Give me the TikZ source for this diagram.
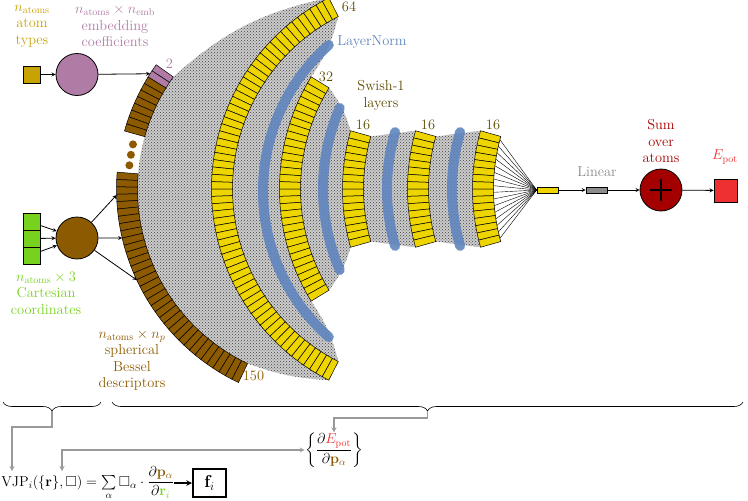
\documentclass[tikz,border=0pt]{standalone}
\usepackage{amsmath,amssymb}
\usetikzlibrary{decorations.pathreplacing,patterns}

\definecolor{swishyellow}{HTML}{EED500}
\definecolor{besselbrown}{HTML}{8C5A00}
\definecolor{embpurple}{HTML}{B07CA6}
\definecolor{typegold}{HTML}{C8A200}
\definecolor{cartgreen}{HTML}{77D21E}
\definecolor{normblue}{HTML}{5F85BE}
\definecolor{layerolive}{HTML}{5C4B00}
\definecolor{sumred}{HTML}{A50000}
\definecolor{energyred}{HTML}{EE3030}
\definecolor{lineargray}{HTML}{8C8C8C}

\newcommand{\cellang}{1.97}
\newcommand{\rin}{193.5}
\newcommand{\rout}{214.5}

% one layer: #3 cells on a circle around (#1,-189), first cell at angle #2
\newcommand{\drawlayer}[4]{%
  \begin{scope}[shift={(#1,-189)}]
    \foreach \k in {1,...,#3}{
      \pgfmathsetmacro\angA{#2+(\k-1)*\cellang}
      \pgfmathsetmacro\angB{#2+\k*\cellang}
      \draw[cell, fill=#4] (\angA:\rin) -- (\angA:\rout) arc[start angle=\angA, end angle=\angB, radius=\rout] -- (\angB:\rin) arc[start angle=\angB, end angle=\angA, radius=\rin] -- cycle;
    }
  \end{scope}}

\begin{document}
\begin{tikzpicture}[
    x=1pt, y=1pt,
    >=stealth,
    thick,
    cell/.style={draw=black, line width=0.5pt},
    hatch/.style={fill=black!20, postaction={pattern=crosshatch dots, pattern color=black!75}},
    normline/.style={normblue, line width=10pt, line cap=round, opacity=0.9},
    lbl/.style={font=\fontsize{14.4}{16.5}\selectfont, align=center, inner sep=0pt},
    box/.style={draw, line width=0.8pt, minimum size=17pt, inner sep=0pt},
    bar/.style={draw, line width=0.6pt, minimum width=21pt, minimum height=6pt, inner sep=0pt},
    circ/.style={draw, circle, line width=0.8pt, minimum size=42pt, inner sep=0pt},
    flow/.style={->, thick},
    back/.style={->, gray!80, line width=1.2pt}
]
    \useasboundingbox (0,0) rectangle (748,-501);

    % HATCHED CONNECTIONS BETWEEN LAYERS
    \fill[hatch] ([shift={(331,-189)}]144.6:\rin) arc[start angle=144.6, end angle=244.45, radius=\rin]
        to[bend right=8] ([shift={(426,-189)}]243.04:\rout) arc[start angle=243.04, end angle=116.96, radius=\rout]
        to[bend right=15] ([shift={(331,-189)}]144.6:\rin) -- cycle;
    \fill[hatch] ([shift={(426,-189)}]116.96:\rin) arc[start angle=116.96, end angle=243.04, radius=\rin]
        to[bend right=10] ([shift={(494,-189)}]211.52:\rout) arc[start angle=211.52, end angle=148.48, radius=\rout]
        to[bend right=10] ([shift={(426,-189)}]116.96:\rin) -- cycle;
    \fill[hatch] ([shift={(494,-189)}]148.48:\rin) arc[start angle=148.48, end angle=211.52, radius=\rin]
        to[bend right=10] ([shift={(557,-189)}]195.76:\rout) arc[start angle=195.76, end angle=164.24, radius=\rout]
        to[bend right=10] ([shift={(494,-189)}]148.48:\rin) -- cycle;
    \fill[hatch] ([shift={(557,-189)}]164.24:\rin) arc[start angle=164.24, end angle=195.76, radius=\rin]
        -- ([shift={(622,-189)}]195.76:\rout) arc[start angle=195.76, end angle=164.24, radius=\rout] -- cycle;
    \fill[hatch] ([shift={(622,-189)}]164.24:\rin) arc[start angle=164.24, end angle=195.76, radius=\rin]
        -- ([shift={(687,-189)}]195.76:\rout) arc[start angle=195.76, end angle=164.24, radius=\rout] -- cycle;

    % LAYERNORM
    \draw[normline] ([shift={(458,-191)}]131.5:195) arc[start angle=131.5, end angle=228.5, radius=195];
    \draw[normline] ([shift={(527,-189)}]156.6:204) arc[start angle=156.6, end angle=203.4, radius=204];
    \draw[normline] ([shift={(591,-189)}]163.8:204) arc[start angle=163.8, end angle=196.2, radius=204];
    \draw[normline] ([shift={(656,-189)}]163.8:204) arc[start angle=163.8, end angle=196.2, radius=204];

    % LAYERS
    \drawlayer{331}{144.6}{2}{embpurple}
    \drawlayer{331}{148.54}{8}{besselbrown}
    \drawlayer{331}{175.5}{35}{besselbrown}
    \drawlayer{426}{116.96}{64}{swishyellow}
    \drawlayer{494}{148.48}{32}{swishyellow}
    \drawlayer{557}{164.24}{16}{swishyellow}
    \drawlayer{622}{164.24}{16}{swishyellow}
    \drawlayer{687}{164.24}{16}{swishyellow}
    \foreach \a in {167.3,170.3,173.3}
        \fill[besselbrown] ([shift={(331,-189)}]\a:203) circle[radius=4];

    % OUTPUT
    \node[bar, fill=swishyellow] (atomout) at (547.5,-190) {};
    \node[bar, fill=lineargray] (linear) at (596.5,-190) {};
    \node[circ, fill=sumred] (sum) at (661,-190) {};
    \node[box, fill=energyred, minimum size=23pt] (epot) at (725.5,-190.5) {};
    \foreach \k in {1,...,16}{
        \pgfmathsetmacro\angA{164.24+(\k-0.5)*\cellang}
        \draw[line width=0.4pt] ([shift={(687,-189)}]\angA:\rin) -- (atomout.west);
    }
    \draw[line width=1.2pt] ([xshift=-11pt]sum.center) -- ([xshift=11pt]sum.center);
    \draw[line width=1.2pt] ([yshift=-11pt]sum.center) -- ([yshift=11pt]sum.center);
    \draw[flow] (atomout) -- (linear);
    \draw[flow] (linear) -- (sum);
    \draw[flow] (sum) -- (epot);

    % INPUTS
    \node[box, fill=typegold] (types) at (31.5,-74.5) {};
    \node[circ, fill=embpurple] (emb) at (77,-74.5) {};
    \coordinate (embIn) at ([shift={(331,-189)}]147.5:\rout);
    \draw[flow] (types) -- (emb);
    \draw[flow] (emb) -- (embIn);

    \node[box, fill=cartgreen] (cart1) at (31.5,-221.5) {};
    \node[box, fill=cartgreen] (cart2) at (31.5,-238.5) {};
    \node[box, fill=cartgreen] (cart3) at (31.5,-255.5) {};
    \node[circ, fill=besselbrown] (bes) at (77,-238) {};
    \coordinate (besA) at ([shift={(331,-189)}]181.6:\rout);
    \coordinate (besB) at ([shift={(331,-189)}]193.2:\rout);
    \coordinate (besC) at ([shift={(331,-189)}]205.1:\rout);
    \draw[flow] ([yshift=-4pt]cart1.east) -- (bes);
    \draw[flow] (cart2) -- (bes);
    \draw[flow] ([yshift=4pt]cart3.east) -- (bes);
    \draw[flow] (bes) -- (besA);
    \draw[flow] (bes) -- (besB);
    \draw[flow] (bes) -- (besC);

    % LABELS
    \node[lbl, typegold] (typesLbl) at (32,-26) {$n_{\text{atoms}}$\\atom\\types};
    \node[lbl, embpurple] (embLbl) at (115,-26) {$n_{\text{atoms}}\times n_{\text{emb}}$\\embedding\\coefficients};
    \node[lbl, cartgreen] (cartLbl) at (46,-293) {$n_{\text{atoms}}\times 3$\\Cartesian\\coordinates};
    \node[lbl, besselbrown] (besLbl) at (132,-360) {$n_{\text{atoms}}\times n_p$\\spherical\\Bessel\\descriptors};
    \node[lbl, embpurple] (lbl2) at (169.5,-63.5) {2};
    \node[lbl, besselbrown] (lbl150) at (253.5,-376) {150};
    \node[lbl, layerolive] (lbl64) at (349,-7) {64};
    \node[lbl, layerolive] (lbl32) at (326,-77) {32};
    \node[lbl, layerolive] (lbl16a) at (363,-125) {16};
    \node[lbl, layerolive] (lbl16b) at (428,-125) {16};
    \node[lbl, layerolive] (lbl16c) at (493,-125) {16};
    \node[lbl, normblue, anchor=west] (normLbl) at (337,-42) {LayerNorm};
    \node[lbl, layerolive] (swishLbl) at (381,-95.5) {Swish-1\\layers};
    \node[lbl, lineargray] (linLbl) at (597,-172) {Linear};
    \node[lbl, sumred] (sumLbl) at (661,-141) {Sum\\over\\atoms};
    \node[lbl, energyred] (epotLbl) at (725,-157) {$E_{\text{pot}}$};

    % BRACES AND FORCES
    \draw[semithick, decorate, decoration={brace, mirror, amplitude=9pt}] (3,-402) -- (101,-402);
    \draw[semithick, decorate, decoration={brace, mirror, amplitude=9pt}] (112,-402) -- (743,-402);
    \coordinate (tipA) at (52,-411);
    \coordinate (tipB) at (427.5,-411);

    \node[lbl, anchor=base west] (vjp) at (1,-486) {$\mathrm{VJP}_i(\{\mathbf{r}\},\square)=\sum\limits_{\alpha}\square_\alpha\cdot\dfrac{\partial\textcolor{besselbrown}{\mathbf{p}_\alpha}}{\partial\textcolor{cartgreen}{\mathbf{r}_i}}$};
    \node[draw, line width=2pt, minimum width=33pt, minimum height=28pt, font=\LARGE] (force) at (209.5,-483) {$\mathbf{f}_i$};
    \node[lbl] (dEdp) at (334,-450) {$\left\{\dfrac{\partial\textcolor{energyred}{E_{\text{pot}}}}{\partial\textcolor{besselbrown}{\mathbf{p}_\alpha}}\right\}$};
    \coordinate (vjpIn) at (12,-471);
    \coordinate (boxIn) at (62,-471);

    \draw[->, line width=1.5pt] (vjp.east |- force) -- (force);
    \draw[back] (tipA) -- ++(0,-16) -| (vjpIn);
    \draw[back] (tipB) -- ++(0,-7) -| (dEdp.north);
    \draw[back, <->] (boxIn) |- (dEdp.west);
\end{tikzpicture}
\end{document}
